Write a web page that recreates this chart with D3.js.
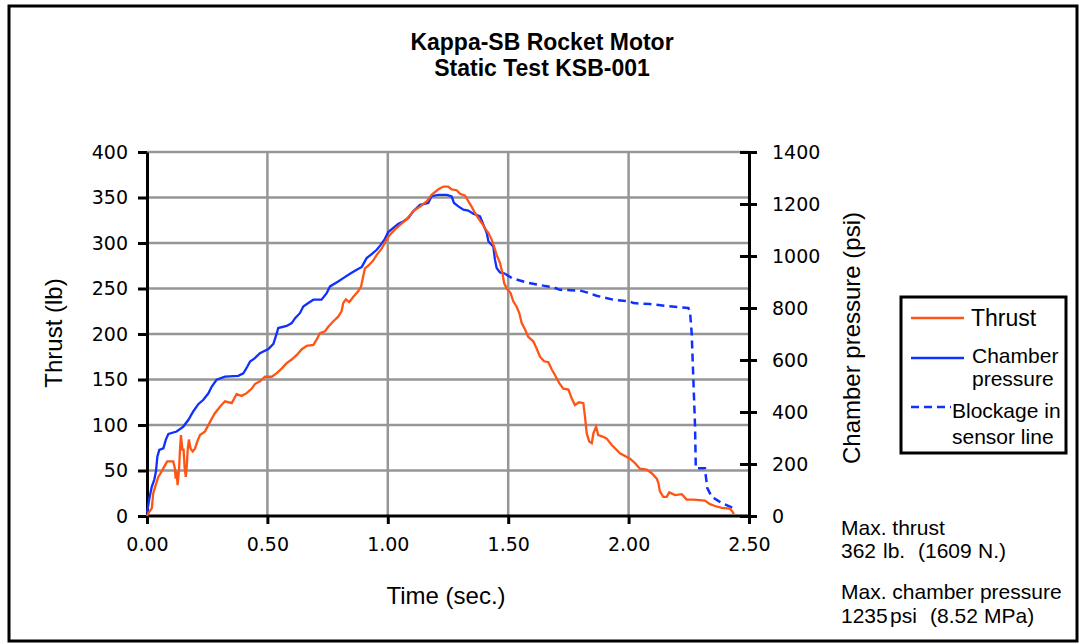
<!DOCTYPE html>
<html>
<head>
<meta charset="utf-8">
<script src="https://cdn.jsdelivr.net/npm/d3@7"></script>
<style>
  body { margin: 0; background: #fff; }
  svg { display: block; }
  text { font-family: "Liberation Sans", Arial, sans-serif; fill: #000; }
  .tick text { font-family: "DejaVu Sans", sans-serif; font-size: 19px; }
</style>
</head>
<body>
<svg id="chart" width="1079" height="644"></svg>
<script>
// ---- Data ----
const titleLines = ["Kappa-SB Rocket Motor", "Static Test KSB-001"];
const timeTicks = [0, 0.5, 1.0, 1.5, 2.0, 2.5];
const thrustTicks = [0, 50, 100, 150, 200, 250, 300, 350, 400];
const pressureTicks = [0, 200, 400, 600, 800, 1000, 1200, 1400];

// [time (s), thrust (lb)]
const thrust = [[0,0],[0.005,3],[0.02,8.5],[0.026,25],[0.036,34],[0.047,43],[0.061,49],[0.071,54],[0.084,60],[0.109,60],[0.116,52],[0.119,41],[0.123,49],[0.127,34],[0.133,51],[0.137,73],[0.141,89],[0.147,73],[0.152,73],[0.156,54],[0.161,43],[0.165,54],[0.169,73],[0.174,84],[0.181,74],[0.19,71],[0.199,74],[0.209,82],[0.22,89],[0.241,93],[0.255,100],[0.269,107],[0.282,113],[0.303,120],[0.324,126],[0.352,124],[0.372,134],[0.393,132],[0.414,135],[0.435,140],[0.448,145],[0.469,148],[0.49,153],[0.518,153],[0.539,157],[0.559,162],[0.58,168],[0.601,172],[0.622,177],[0.642,183],[0.663,187],[0.691,188],[0.705,194],[0.718,201],[0.739,203],[0.753,208],[0.774,214],[0.794,219],[0.808,225],[0.815,234],[0.826,238],[0.84,235],[0.857,241],[0.877,247],[0.889,252],[0.896,261],[0.905,272],[0.919,275],[0.94,281],[0.954,287],[0.975,294],[0.995,304],[1.009,309],[1.03,315],[1.051,320],[1.078,326],[1.106,335],[1.134,340],[1.162,346],[1.182,353],[1.21,359],[1.231,362],[1.251,362],[1.265,359],[1.286,358],[1.3,354],[1.321,352],[1.334,346],[1.348,340],[1.362,333],[1.376,327],[1.39,322],[1.404,316],[1.418,311],[1.431,304],[1.445,293],[1.452,287],[1.466,278],[1.476,267],[1.483,256],[1.494,250],[1.51,245],[1.521,236],[1.535,230],[1.546,223],[1.556,212],[1.57,205],[1.583,197],[1.604,192],[1.618,184],[1.632,175],[1.649,170],[1.667,169],[1.681,161],[1.694,155],[1.712,146],[1.729,140],[1.75,139],[1.764,129],[1.777,122],[1.794,125],[1.812,124],[1.819,109],[1.826,91],[1.836,82],[1.847,80],[1.854,91],[1.865,98],[1.874,89],[1.895,87],[1.909,85],[1.93,78],[1.964,69],[2.006,63],[2.027,58],[2.047,52],[2.075,51],[2.096,47],[2.117,41],[2.124,36],[2.13,27],[2.144,21],[2.158,21],[2.169,26],[2.193,23],[2.221,24],[2.241,18],[2.269,18],[2.317,17],[2.338,13],[2.359,11],[2.387,9],[2.42,8],[2.431,5],[2.437,2]];

// [time (s), chamber pressure (psi)]
const pressure = [[0,12],[0.01,69],[0.02,113],[0.03,139],[0.037,170],[0.043,228],[0.051,254],[0.068,260],[0.078,293],[0.089,316],[0.123,325],[0.151,344],[0.172,370],[0.192,402],[0.213,430],[0.234,447],[0.255,472],[0.269,498],[0.289,524],[0.324,536],[0.379,539],[0.4,549],[0.417,575],[0.428,594],[0.448,607],[0.469,626],[0.504,642],[0.525,662],[0.539,703],[0.545,723],[0.58,731],[0.601,742],[0.615,761],[0.635,780],[0.649,806],[0.67,819],[0.691,832],[0.725,832],[0.746,857],[0.76,883],[0.794,902],[0.815,915],[0.843,932],[0.871,947],[0.892,958],[0.912,992],[0.933,1007],[0.954,1024],[0.968,1040],[0.988,1066],[1.002,1092],[1.023,1108],[1.044,1124],[1.064,1133],[1.085,1146],[1.106,1172],[1.134,1197],[1.168,1204],[1.182,1230],[1.21,1235],[1.245,1235],[1.265,1229],[1.275,1204],[1.293,1191],[1.314,1178],[1.334,1175],[1.355,1163],[1.383,1152],[1.397,1120],[1.411,1088],[1.418,1056],[1.438,1037],[1.445,986],[1.452,954],[1.466,937],[1.487,932]];

// [time (s), pressure (psi)] after the sensor-line blockage
const blockage = [[1.487,932],[1.515,915],[1.577,898],[1.646,886],[1.687,880],[1.715,870],[1.798,867],[1.826,860],[1.867,847],[1.936,832],[2.006,825],[2.02,819],[2.089,815],[2.158,808],[2.248,800],[2.255,787],[2.262,703],[2.269,524],[2.276,344],[2.279,184],[2.317,184],[2.321,151],[2.327,107],[2.345,74],[2.366,62],[2.387,49],[2.407,42],[2.435,30]];

const notes = [
  ["Max. thrust"],
  ["362", "lb.", "(1609", "N.)"],
  ["Max. chamber pressure"],
  ["1235", "psi", "(8.52", "MPa)"]
];

// ---- Layout ----
const svg = d3.select("#chart");
const W = 1079, H = 644;
const plot = { left: 147, right: 749, top: 152, bottom: 516 };
const THRUST_COLOR = "#ff5514", PRESS_COLOR = "#1030ff", GRID = "#969696";

const x = d3.scaleLinear().domain([0, 2.5]).range([plot.left, plot.right]);
const yL = d3.scaleLinear().domain([0, 400]).range([plot.bottom, plot.top]);
const yR = d3.scaleLinear().domain([0, 1400]).range([plot.bottom, plot.top]);

svg.append("rect").attr("width", W).attr("height", H).attr("fill", "#fff");
svg.append("rect").attr("x", 9).attr("y", 6).attr("width", 1068).attr("height", 635)
  .attr("fill", "none").attr("stroke", "#000").attr("stroke-width", 3);

// Title
svg.selectAll("text.title").data(titleLines).join("text")
  .attr("class", "title")
  .attr("x", 542).attr("y", (d, i) => 50 + i * 26)
  .attr("text-anchor", "middle")
  .style("font-weight", "bold").style("font-size", "23px")
  .text(d => d);

// Gridlines
svg.append("g").selectAll("line").data(thrustTicks.filter(d => d > 0)).join("line")
  .attr("x1", plot.left).attr("x2", plot.right)
  .attr("y1", d => yL(d)).attr("y2", d => yL(d))
  .attr("stroke", GRID).attr("stroke-width", 2.5);
svg.append("g").selectAll("line").data(timeTicks.filter(d => d > 0 && d < 2.5)).join("line")
  .attr("x1", d => x(d)).attr("x2", d => x(d))
  .attr("y1", plot.top).attr("y2", plot.bottom)
  .attr("stroke", GRID).attr("stroke-width", 2.5);

// Axes
function styleAxis(g) {
  g.select(".domain").attr("stroke", "#000").attr("stroke-width", 3);
  g.selectAll(".tick line").attr("stroke", "#000").attr("stroke-width", 3);
}
const gL = svg.append("g").attr("transform", `translate(${plot.left},0)`)
  .call(d3.axisLeft(yL).tickValues(thrustTicks).tickSize(9).tickSizeOuter(0).tickPadding(10).tickFormat(d3.format("d")));
styleAxis(gL);

const gR = svg.append("g").attr("transform", `translate(${plot.right},0)`)
  .call(d3.axisRight(yR).tickValues(pressureTicks).tickSize(8).tickSizeOuter(0).tickPadding(15).tickFormat(d3.format("d")));
styleAxis(gR);
gR.selectAll(".tick line").attr("x1", -9);

const gB = svg.append("g").attr("transform", `translate(0,${plot.bottom})`)
  .call(d3.axisBottom(x).tickValues(timeTicks).tickSize(8).tickSizeOuter(0).tickPadding(14).tickFormat(d3.format(".2f")));
styleAxis(gB);
gB.select(".domain").attr("d", `M${plot.left},0H${plot.right}`);

// Axis titles
svg.append("text").attr("transform", "translate(62,333) rotate(-90)")
  .attr("text-anchor", "middle").style("font-size", "24px").text("Thrust (lb)");
svg.append("text").attr("transform", "translate(860,338) rotate(-90)")
  .attr("text-anchor", "middle").style("font-size", "24px").text("Chamber pressure (psi)");
svg.append("text").attr("x", 446).attr("y", 604)
  .attr("text-anchor", "middle").style("font-size", "24px").text("Time (sec.)");

// Series
const lineL = d3.line().x(d => x(d[0])).y(d => yL(d[1]));
const lineR = d3.line().x(d => x(d[0])).y(d => yR(d[1]));

svg.append("path").datum(blockage).attr("d", lineR)
  .attr("fill", "none").attr("stroke", PRESS_COLOR).attr("stroke-width", 2.5)
  .attr("stroke-dasharray", "8,5");
svg.append("path").datum(pressure).attr("d", lineR)
  .attr("fill", "none").attr("stroke", PRESS_COLOR).attr("stroke-width", 2.3);
svg.append("path").datum(thrust).attr("d", lineL)
  .attr("fill", "none").attr("stroke", THRUST_COLOR).attr("stroke-width", 2.3);

// Legend
const lg = svg.append("g");
lg.append("rect").attr("x", 901).attr("y", 297).attr("width", 165).attr("height", 156)
  .attr("fill", "#fff").attr("stroke", "#000").attr("stroke-width", 3);
lg.append("line").attr("x1", 911).attr("x2", 964).attr("y1", 318).attr("y2", 318)
  .attr("stroke", THRUST_COLOR).attr("stroke-width", 2.5);
lg.append("text").attr("x", 971).attr("y", 326).style("font-size", "23px").text("Thrust");
lg.append("line").attr("x1", 911).attr("x2", 964).attr("y1", 358).attr("y2", 358)
  .attr("stroke", PRESS_COLOR).attr("stroke-width", 2.5);
lg.append("text").attr("x", 972).attr("y", 363).style("font-size", "21px").text("Chamber");
lg.append("text").attr("x", 972).attr("y", 386).style("font-size", "21px").text("pressure");
lg.append("line").attr("x1", 911).attr("x2", 951).attr("y1", 407).attr("y2", 407)
  .attr("stroke", PRESS_COLOR).attr("stroke-width", 2.5).attr("stroke-dasharray", "8,5");
lg.append("text").attr("x", 952).attr("y", 418).style("font-size", "21px").text("Blockage in");
lg.append("text").attr("x", 952).attr("y", 444).style("font-size", "21px").text("sensor line");

// Notes
const noteY = [535, 558, 599, 623];
const noteX = [[841], [841, 883, 918, 978], [841], [841, 890, 930, 984]];
notes.forEach((parts, i) => {
  const t = svg.append("text").attr("y", noteY[i]).style("font-size", "21px");
  parts.forEach((p, j) => t.append("tspan").attr("x", noteX[i][j]).text(p));
});
</script>
</body>
</html>
